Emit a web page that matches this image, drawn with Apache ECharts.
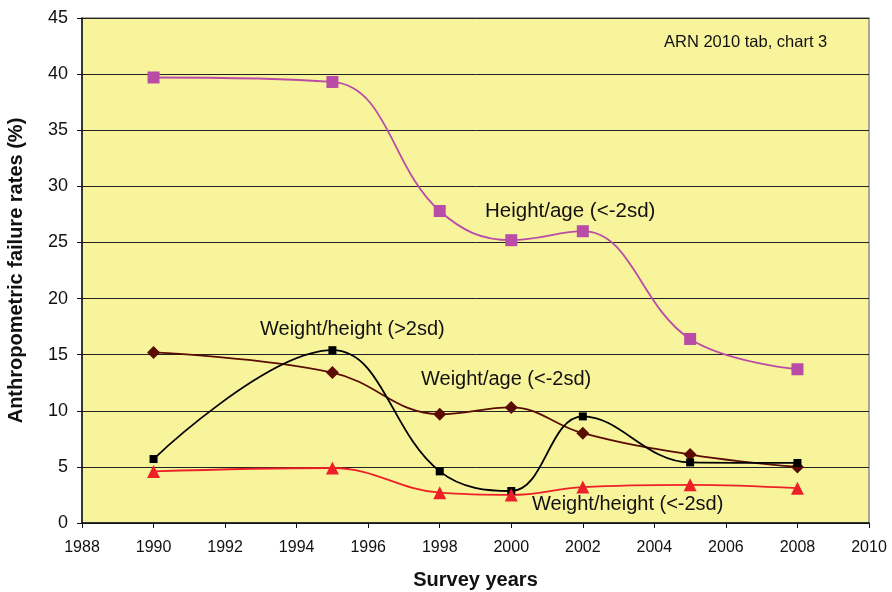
<!DOCTYPE html>
<html>
<head>
<meta charset="utf-8">
<script src="https://cdn.jsdelivr.net/npm/echarts@6/dist/echarts.min.js"></script>
<style>
  html, body { margin: 0; padding: 0; background: #fff; }
  #main { width: 892px; height: 592px; }
</style>
</head>
<body>
<div id="main"></div>
<script>
// survey years
var years = [1990, 1995, 1998, 2000, 2002, 2005, 2008];
// anthropometric failure rates (%)
var heightAge = [39.7, 39.3, 27.8, 25.2, 26.0, 16.4, 13.7];
var weightAge = [15.2, 13.4, 9.7, 10.3, 8.0, 6.1, 5.0];
var weightHeightHigh = [5.7, 15.4, 4.6, 2.85, 9.5, 5.4, 5.35];
var weightHeightLow = [4.6, 4.9, 2.7, 2.5, 3.2, 3.4, 3.1];

function pairs(vals) {
  return years.map(function (y, i) { return [y, vals[i]]; });
}

var font = 'Liberation Sans, Arial, sans-serif';

var myChart = echarts.init(document.getElementById('main'));
myChart.setOption({
  animation: false,
  textStyle: { fontFamily: font },
  grid: {
    left: 82, right: 23, top: 18, bottom: 69,
    outerBoundsMode: 'none', containLabel: false,
    show: true, backgroundColor: '#F8F49C', borderColor: '#8c8c8c', borderWidth: 1.5
  },
  xAxis: {
    type: 'value', min: 1988, max: 2010, interval: 2,
    name: 'Survey years', nameLocation: 'middle', nameGap: 47,
    nameTextStyle: { fontSize: 20, fontWeight: 'bold', color: '#111', fontFamily: font },
    axisLine: { lineStyle: { color: '#111', width: 1.5 } },
    axisTick: { show: true, inside: false, length: 5, lineStyle: { color: '#111' } },
    axisLabel: { fontSize: 16, color: '#111', margin: 17, fontFamily: font,
      formatter: function (v) { return String(v); } },
    splitLine: { show: false }
  },
  yAxis: {
    type: 'value', min: 0, max: 45, interval: 5,
    name: 'Anthropometric failure rates (%)', nameLocation: 'middle', nameGap: 56,
    nameTextStyle: { fontSize: 20, fontWeight: 'bold', color: '#111', fontFamily: font },
    axisLine: { show: true, lineStyle: { color: '#111', width: 1.5 } },
    axisTick: { show: true, inside: false, length: 5, lineStyle: { color: '#111' } },
    axisLabel: { fontSize: 18, color: '#111', margin: 14, fontFamily: font },
    splitLine: { show: true, lineStyle: { color: '#222', width: 1 } }
  },
  graphic: [
    { type: 'text', left: 664, top: 34, style: { text: 'ARN 2010 tab, chart 3', fontSize: 16.5, fill: '#111', fontFamily: font } },
    { type: 'text', left: 485, top: 201, style: { text: 'Height/age (<-2sd)', fontSize: 20.5, fill: '#111', fontFamily: font } },
    { type: 'text', left: 260, top: 319, style: { text: 'Weight/height (>2sd)', fontSize: 20, fill: '#111', fontFamily: font } },
    { type: 'text', left: 421, top: 369, style: { text: 'Weight/age (<-2sd)', fontSize: 20, fill: '#111', fontFamily: font } },
    { type: 'text', left: 532, top: 494, style: { text: 'Weight/height (<-2sd)', fontSize: 20, fill: '#111', fontFamily: font } }
  ],
  series: [
    {
      name: 'Height/age (<-2sd)', type: 'line', smooth: 0.4, data: pairs(heightAge),
      symbol: 'rect', symbolSize: 12,
      lineStyle: { color: '#B94CA6', width: 1.8 },
      itemStyle: { color: '#B94CA6' }
    },
    {
      name: 'Weight/age (<-2sd)', type: 'line', smooth: 0.4, data: pairs(weightAge),
      symbol: 'diamond', symbolSize: 13,
      lineStyle: { color: '#5A0C02', width: 1.8 },
      itemStyle: { color: '#5A0C02' }
    },
    {
      name: 'Weight/height (>2sd)', type: 'line', smooth: 0.4, data: pairs(weightHeightHigh),
      symbol: 'rect', symbolSize: 8,
      lineStyle: { color: '#000', width: 1.8 },
      itemStyle: { color: '#000' }
    },
    {
      name: 'Weight/height (<-2sd)', type: 'line', smooth: 0.4, data: pairs(weightHeightLow),
      symbol: 'triangle', symbolSize: 13,
      lineStyle: { color: '#EE2027', width: 1.8 },
      itemStyle: { color: '#EE2027' }
    }
  ]
});
</script>
</body>
</html>
